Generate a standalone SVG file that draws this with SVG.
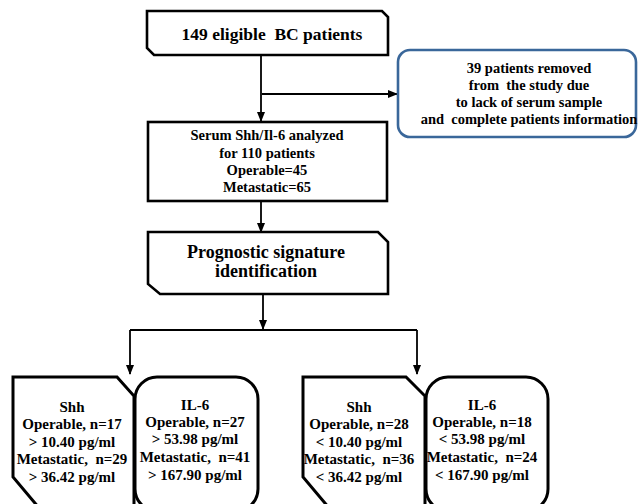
<svg xmlns="http://www.w3.org/2000/svg" width="638" height="504" viewBox="0 0 638 504">
<style>
.box{fill:#fff;stroke:#000;stroke-width:2.6;stroke-linejoin:miter}
.bbox{fill:#fff;stroke:#000;stroke-width:3}
.blue{fill:#fff;stroke:#3a679a;stroke-width:2.6}
.c{fill:none;stroke:#000;stroke-width:1.8}
.t{font-family:'Liberation Serif','DejaVu Serif',serif;font-weight:700;fill:#000;text-anchor:middle}
</style>
<defs>
<marker id="ah" markerWidth="10" markerHeight="10" refX="9" refY="5" orient="auto" markerUnits="userSpaceOnUse">
<path d="M0,1 L10,5 L0,9 Z" fill="#000"/>
</marker>
</defs>
<g id="connectors">
<line class="c" x1="261" y1="55" x2="261" y2="121" marker-end="url(#ah)"/>
<line class="c" x1="262" y1="94" x2="397" y2="94" marker-end="url(#ah)"/>
<line class="c" x1="261" y1="201" x2="261" y2="232" marker-end="url(#ah)"/>
<line class="c" x1="263" y1="294" x2="263" y2="329" marker-end="url(#ah)"/>
<line class="c" x1="130" y1="330" x2="417" y2="330"/>
<line class="c" x1="130" y1="330" x2="130" y2="374" marker-end="url(#ah)"/>
<line class="c" x1="417" y1="330" x2="417" y2="374" marker-end="url(#ah)"/>
</g>
<g id="n1">
<path class="box" d="M147,11 H382 L388,17 V55 H154 L147,48 Z"/>
<text class="t" x="272" y="40" font-size="17.5" xml:space="preserve">149 eligible  BC patients</text>
</g>
<g id="n2">
<rect class="blue" x="398" y="50" width="238" height="87" rx="12"/>
<text class="t" font-size="14.5" xml:space="preserve"><tspan x="529" y="73">39 patients removed</tspan><tspan x="529" y="90">from  the study due</tspan><tspan x="529" y="107">to lack of serum sample</tspan><tspan x="529" y="124">and  complete patients information</tspan></text>
</g>
<g id="n3">
<rect class="box" x="148" y="122" width="239" height="79"/>
<text class="t" font-size="14.5"><tspan x="267" y="140">Serum Shh/Il-6 analyzed</tspan><tspan x="267" y="158">for 110 patients</tspan><tspan x="267" y="175">Operable=45</tspan><tspan x="267" y="192">Metastatic=65</tspan></text>
</g>
<g id="n4">
<path class="box" d="M148,232 H378 L388,242 V294 H160 L148,284 Z"/>
<text class="t" font-size="18"><tspan x="266" y="258">Prognostic signature</tspan><tspan x="266" y="277">identification</tspan></text>
</g>
<g id="n5">
<path class="bbox" d="M13,377 H117 L134,396 V515 H45 L13,477 Z"/>
<text class="t" font-size="15" xml:space="preserve"><tspan x="72" y="412">Shh</tspan><tspan x="72" y="429">Operable, n=17</tspan><tspan x="72" y="447">&gt; 10.40 pg/ml</tspan><tspan x="72" y="464">Metastatic,  n=29</tspan><tspan x="72" y="482">&gt; 36.42 pg/ml</tspan></text>
</g>
<g id="n6">
<rect class="bbox" x="135" y="377" width="123" height="134" rx="22"/>
<text class="t" font-size="15" xml:space="preserve"><tspan x="195" y="410">IL-6</tspan><tspan x="195" y="427">Operable, n=27</tspan><tspan x="195" y="444">&gt; 53.98 pg/ml</tspan><tspan x="195" y="462">Metastatic,  n=41</tspan><tspan x="195" y="480">&gt; 167.90 pg/ml</tspan></text>
</g>
<g id="n7">
<path class="bbox" d="M303,377 H406 L425,396 V515 H335 L303,477 Z"/>
<text class="t" font-size="15" xml:space="preserve"><tspan x="359" y="412">Shh</tspan><tspan x="359" y="429">Operable, n=28</tspan><tspan x="359" y="447">&lt; 10.40 pg/ml</tspan><tspan x="359" y="464">Metastatic,  n=36</tspan><tspan x="359" y="482">&lt; 36.42 pg/ml</tspan></text>
</g>
<g id="n8">
<rect class="bbox" x="426" y="377" width="122" height="134" rx="22"/>
<text class="t" font-size="15" xml:space="preserve"><tspan x="482" y="410">IL-6</tspan><tspan x="482" y="427">Operable, n=18</tspan><tspan x="482" y="444">&lt; 53.98 pg/ml</tspan><tspan x="482" y="462">Metastatic,  n=24</tspan><tspan x="482" y="480">&lt; 167.90 pg/ml</tspan></text>
</g>
</svg>
